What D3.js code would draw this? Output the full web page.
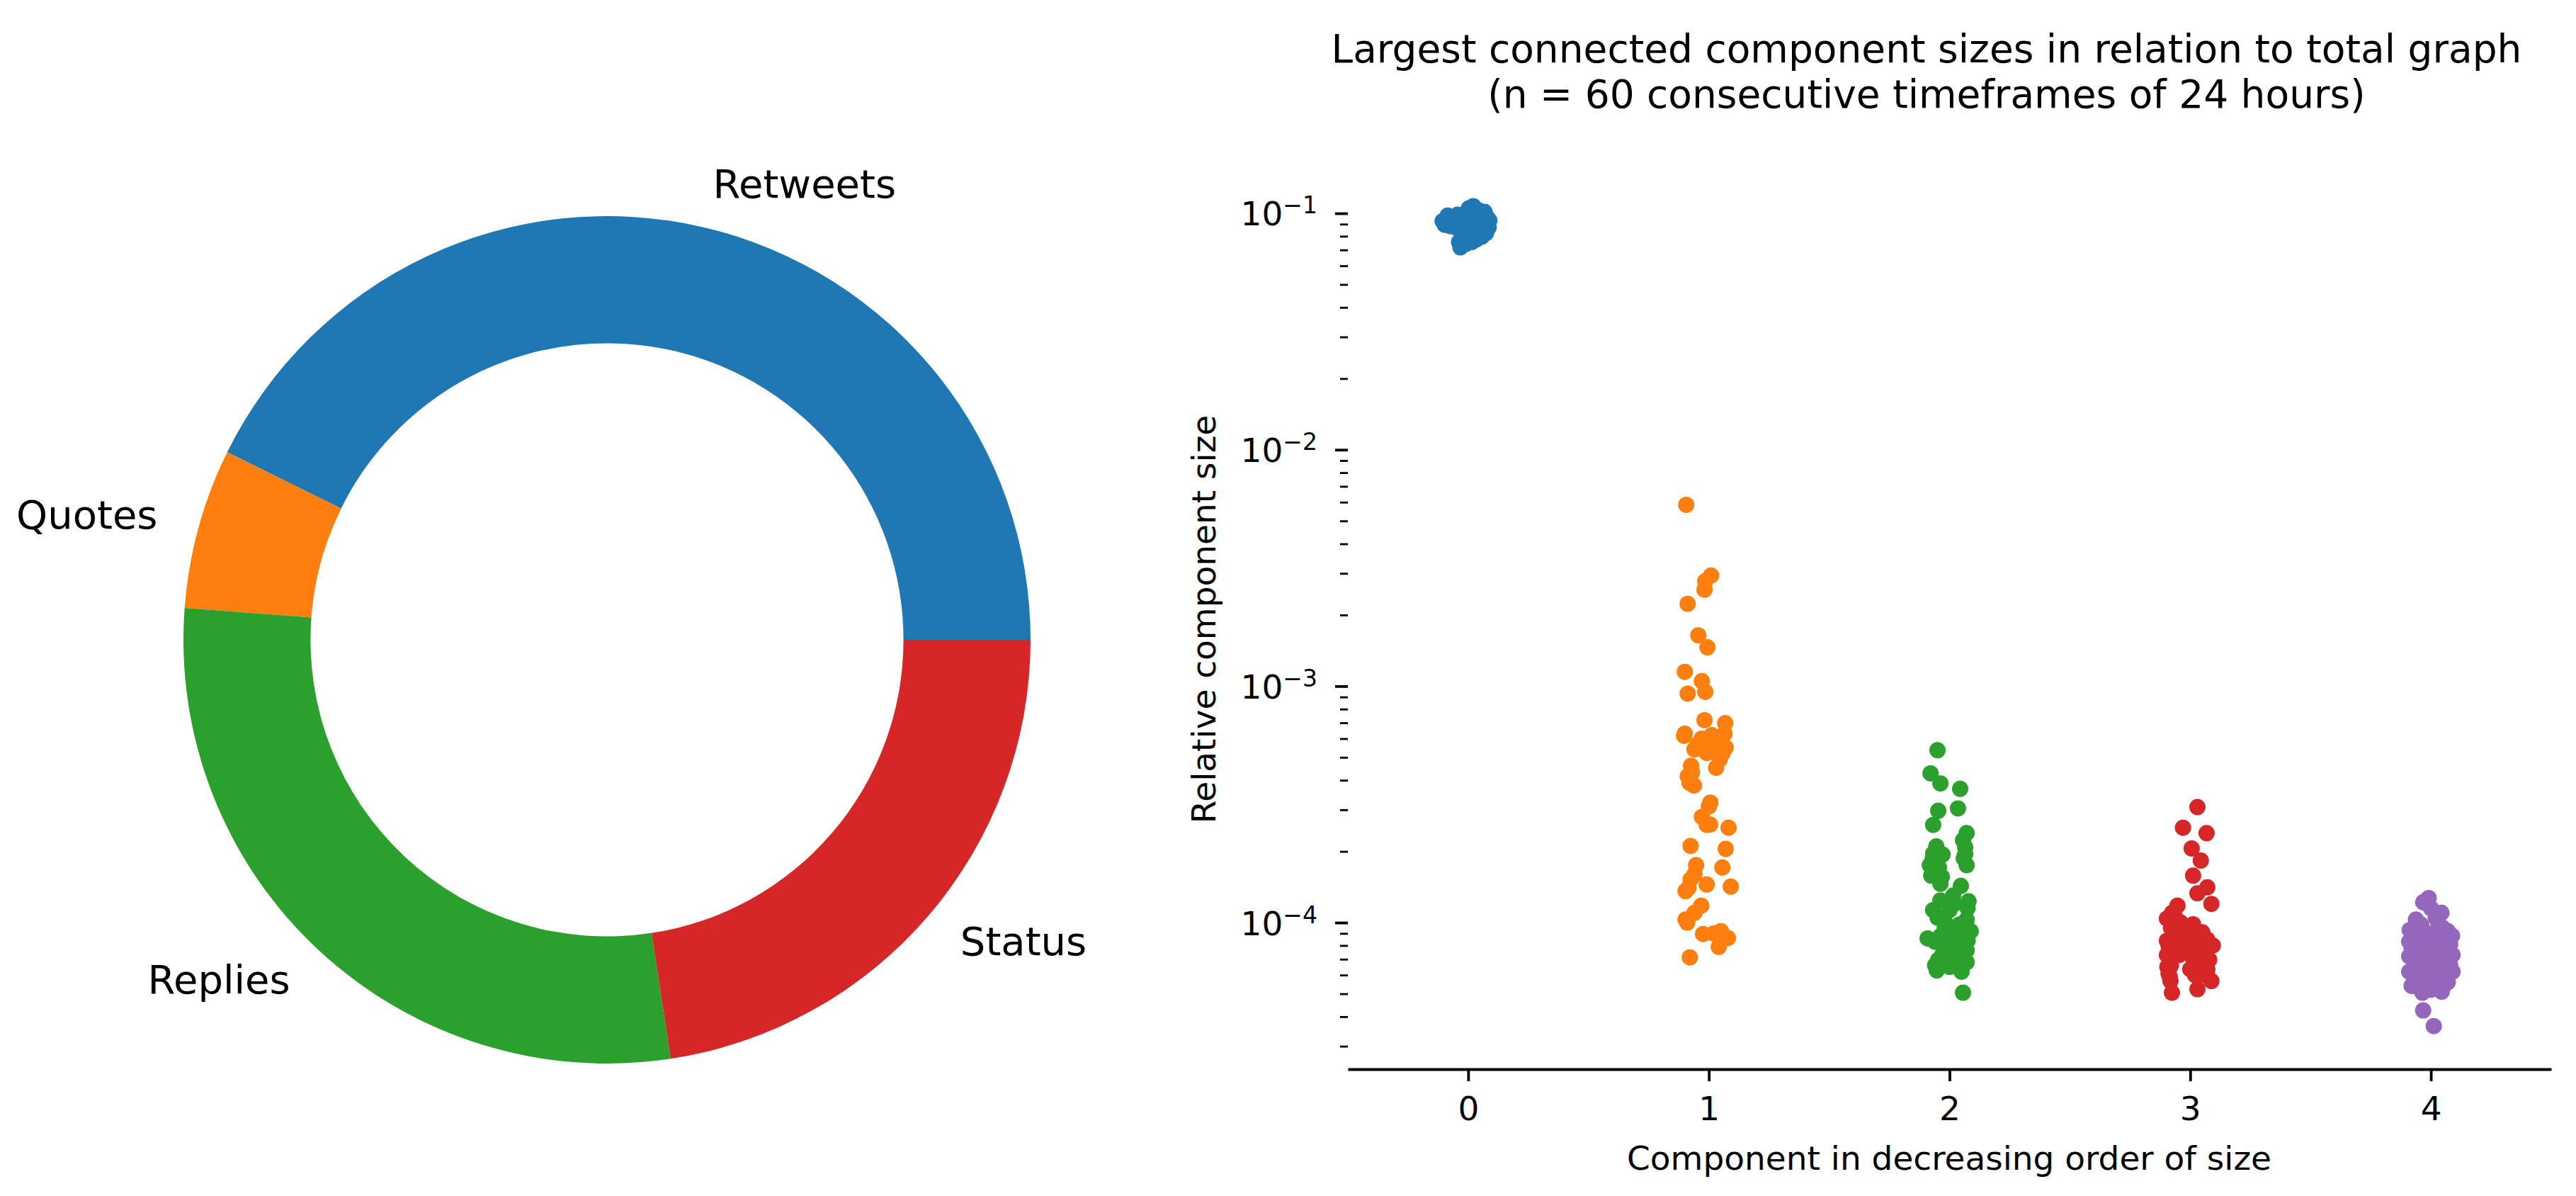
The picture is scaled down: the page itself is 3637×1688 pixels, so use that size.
<!DOCTYPE html>
<html><head><meta charset="utf-8">
<script src="https://cdn.jsdelivr.net/npm/d3@7"></script>
<style>
body{margin:0;background:#fff}
text{font-family:"DejaVu Sans",sans-serif;fill:#000}
</style>
</head><body>
<svg id="chart" width="3637" height="1688"></svg>
<script>
// ---------- data ----------
const donutLabels = ["Retweets", "Quotes", "Replies", "Status"];
const donutShares = [42.7, 6.1, 28.6, 22.6];
const donutColors = ["#1f77b4", "#ff7f0e", "#2ca02c", "#d62728"];

const components = [0, 1, 2, 3, 4];
const componentColors = ["#1f77b4", "#ff7f0e", "#2ca02c", "#d62728", "#9467bd"];

const comp0Jitter = [-0.106,-0.097,-0.082,-0.074,-0.062,-0.053,-0.038,-0.032,-0.021,-0.009,0.003,0.012,0.021,0.026,0.035,0.044,0.056,0.068,0.079,0.088,0.079,0.065,0.074,0.056,0.035,0.015,-0.009,-0.032,-0.038,-0.015,0.006,0.029,0.05,-0.003,-0.024,0.015,0.044,-0.044,-0.085,0.05,-0.015,0.006,0.026,0.038,0.062,-0.068,-0.05,-0.032,0.015,0.024,0.0,0.044,0.068,-0.006,0.021,0.041,-0.021,-0.026,-0.088,0.085];
const comp0Values = [0.0927,0.0895,0.0946,0.0883,0.0959,0.0908,0.0933,0.0871,0.0966,0.0914,0.105,0.1014,0.1072,0.0946,0.0993,0.1028,0.0979,0.1014,0.0959,0.0933,0.0895,0.0871,0.0824,0.0796,0.0777,0.0756,0.0743,0.0718,0.0756,0.0796,0.0835,0.0853,0.0895,0.0883,0.0847,0.0914,0.0933,0.0986,0.0979,0.0813,0.0933,0.0979,0.0895,0.0946,0.0933,0.0921,0.0871,0.0908,0.0959,0.1014,0.1014,0.0986,0.0908,0.0777,0.0796,0.0835,0.0769,0.0818,0.0908,0.0871];

const comp1Jitter = [-0.094,0.009,-0.015,-0.018,-0.088,-0.044,-0.006,-0.1,-0.029,-0.088,-0.015,-0.018,0.068,-0.103,-0.047,0.012,0.059,0.056,-0.009,0.03,-0.074,-0.088,-0.062,0.006,-0.029,-0.009,0.082,-0.076,0.07,-0.053,0.056,-0.076,-0.097,-0.009,0.091,-0.032,-0.097,-0.024,0.05,0.079,0.041,-0.079,0.03,-0.06,0.0,0.07,-0.03,0.045,-0.07,-0.08,0.0,-0.085,-0.06,-0.06,0.06,0.02,-0.09,0.005,0.065,-0.1];
const comp1Values = [5.85e-3,2.94e-3,2.78e-3,2.56e-3,2.23e-3,1.64e-3,1.46e-3,1.15e-3,1.05e-3,9.3e-4,9.46e-4,7.18e-4,6.98e-4,6.17e-4,5.68e-4,6.21e-4,6.21e-4,5.19e-4,5.22e-4,4.52e-4,4.61e-4,4.16e-4,3.8e-4,3.22e-4,2.8e-4,2.59e-4,2.52e-4,2.11e-4,2.05e-4,1.75e-4,1.71e-4,1.52e-4,1.36e-4,1.45e-4,1.42e-4,1.18e-4,1.03e-4,8.95e-5,9.2e-5,8.6e-5,7.9e-5,7.13e-5,5.9e-4,5.4e-4,5.6e-4,5.5e-4,6.0e-4,4.9e-4,4.3e-4,3.9e-4,3.1e-4,1.4e-4,1.6e-4,1.1e-4,8.5e-5,9.0e-5,1.0e-4,2.6e-4,6.3e-4,6.3e-4];

const comp2Jitter = [-0.05,-0.079,-0.038,0.044,-0.047,0.035,-0.068,0.071,0.056,0.065,-0.068,-0.029,-0.082,-0.044,0.059,-0.076,-0.032,0.071,-0.038,0.047,-0.038,0.079,-0.068,0.0,0.071,-0.018,-0.091,-0.038,0.012,0.088,0.041,0.071,-0.047,-0.053,0.0,0.071,0.056,0.056,-0.009,0.029,0.02,0.075,-0.05,0.04,-0.02,0.07,0.03,-0.06,0.0,0.05,0.075,-0.03,0.025,0.06,-0.06,0.015,-0.07,0.065,-0.055,0.05];
const comp2Values = [5.36e-4,4.28e-4,3.88e-4,3.68e-4,2.97e-4,3.04e-4,2.59e-4,2.39e-4,2.23e-4,2.08e-4,1.96e-4,1.94e-4,1.75e-4,1.71e-4,1.87e-4,1.58e-4,1.56e-4,1.75e-4,1.46e-4,1.43e-4,1.24e-4,1.23e-4,1.13e-4,1.13e-4,1.03e-4,1.0e-4,8.57e-5,8.77e-5,9.19e-5,9.19e-5,8.18e-5,7.64e-5,6.96e-5,6.28e-5,6.5e-5,6.8e-5,6.96e-5,5.05e-5,7.64e-5,6.6e-5,1.2e-4,1.15e-4,1.05e-4,9.8e-5,9.5e-5,9.6e-5,8.8e-5,8.3e-5,8.0e-5,7.8e-5,8.4e-5,7.3e-5,7.2e-5,7.2e-5,6.6e-5,1.3e-4,1.85e-4,1.95e-4,2.1e-4,6.2e-5];

const comp3Jitter = [0.03,-0.03,0.068,0.006,0.044,0.012,0.071,0.03,0.088,-0.053,-0.097,-0.062,0.012,0.094,-0.097,-0.047,0.041,0.0,-0.097,-0.047,0.041,0.079,-0.088,0.0,0.071,0.088,-0.082,-0.076,0.03,0.047,-0.08,-0.05,-0.02,0.02,0.05,0.07,-0.09,-0.06,-0.03,0.02,0.06,-0.07,-0.04,-0.01,0.03,0.06,-0.08,-0.085,0.01,0.04,-0.08,-0.095,0.02,0.05,-0.09,-0.085,0.02,0.07,-0.075,-0.04];
const comp3Values = [3.08e-4,2.52e-4,2.39e-4,2.06e-4,1.83e-4,1.58e-4,1.41e-4,1.33e-4,1.2e-4,1.18e-4,1.04e-4,1.05e-4,9.84e-5,8.0e-5,8.38e-5,8.77e-5,8.77e-5,8.0e-5,7.29e-5,7.29e-5,7.29e-5,6.96e-5,6.35e-5,6.35e-5,6.35e-5,5.66e-5,5.66e-5,5.05e-5,5.23e-5,6.0e-5,9.5e-5,9.2e-5,9.0e-5,9.3e-5,9.1e-5,8.5e-5,8.0e-5,8.1e-5,8.3e-5,8.2e-5,7.9e-5,7.6e-5,7.7e-5,7.5e-5,7.7e-5,7.4e-5,7.0e-5,6.9e-5,7.1e-5,6.8e-5,6.6e-5,6.5e-5,6.6e-5,6.7e-5,6.1e-5,5.9e-5,6.0e-5,6.1e-5,1.1e-4,1.0e-4];

const comp4Jitter = [-0.032,0.012,-0.032,-0.009,0.044,-0.062,-0.088,0.088,0.05,0.02,-0.04,0.0,0.03,-0.07,0.07,-0.09,-0.05,-0.01,0.04,0.08,-0.08,-0.03,0.01,0.06,0.09,-0.09,-0.05,0.0,0.03,0.07,-0.07,-0.02,0.04,0.08,-0.09,-0.04,0.01,0.05,0.09,-0.07,-0.02,0.03,0.07,-0.05,0.0,0.05,-0.08,0.02,-0.06,0.06,-0.01,0.025,-0.03,0.015,-0.065,0.065,-0.015,0.045,-0.035,0.055];
const comp4Values = [4.25e-5,3.65e-5,1.22e-4,1.27e-4,1.1e-4,1.03e-4,9.3e-5,8.8e-5,9.5e-5,1.05e-4,9.8e-5,1.15e-4,1.0e-4,9.0e-5,9.2e-5,8.3e-5,8.5e-5,8.6e-5,8.4e-5,8.1e-5,7.8e-5,7.7e-5,7.9e-5,7.6e-5,7.3e-5,7.2e-5,7.0e-5,7.1e-5,6.9e-5,7.0e-5,6.6e-5,6.5e-5,6.4e-5,6.6e-5,6.2e-5,6.0e-5,6.1e-5,5.9e-5,6.2e-5,5.7e-5,5.6e-5,5.5e-5,5.6e-5,5.3e-5,5.2e-5,5.3e-5,5.4e-5,5.8e-5,6.8e-5,8.0e-5,9.0e-5,6.7e-5,7.4e-5,8.2e-5,8.0e-5,6.3e-5,5.9e-5,5.1e-5,5.05e-5,7.3e-5];

const componentJitter = [comp0Jitter, comp1Jitter, comp2Jitter, comp3Jitter, comp4Jitter];
const componentValues = [comp0Values, comp1Values, comp2Values, comp3Values, comp4Values];

const yMajorTickValues = [1e-4, 1e-3, 1e-2, 1e-1];
const yTickExponents = ["\u22124", "\u22123", "\u22122", "\u22121"];
const xTickLabels = ["0", "1", "2", "3", "4"];
const titleLines = ["Largest connected component sizes in relation to total graph",
                    "(n = 60 consecutive timeframes of 24 hours)"];
const xAxisTitle = "Component in decreasing order of size";
const yAxisTitle = "Relative component size";

// ---------- drawing ----------
const svg = d3.select("#chart");
svg.append("rect").attr("width", 3637).attr("height", 1688).attr("fill", "#fff");

// Donut
const cxD = 857, cyD = 903, R = 598;
const pie = d3.pie().sort(null).startAngle(Math.PI / 2).endAngle(Math.PI / 2 - 2 * Math.PI);
const arcs = pie(donutShares);
const arc = d3.arc().innerRadius(R * 0.7).outerRadius(R);
const gD = svg.append("g").attr("transform", `translate(${cxD},${cyD})`);
gD.selectAll("path").data(arcs).join("path")
  .attr("d", arc).attr("fill", (d, i) => donutColors[i]);
gD.selectAll("text").data(arcs).join("text")
  .each(function (d, i) {
    const a = (d.startAngle + d.endAngle) / 2;
    const lx = 1.1 * R * Math.sin(a), ly = -1.1 * R * Math.cos(a);
    d3.select(this).attr("x", lx).attr("y", ly - 3)
      .attr("text-anchor", lx > 0 ? "start" : "end")
      .attr("dominant-baseline", "central")
      .attr("font-size", 56)
      .text(donutLabels[i]);
  });

// Strip plot
const x = d3.scaleLinear().domain([-0.5, 4.5]).range([1903, 3602]);
const y = d3.scaleLog().domain([Math.pow(10, -4.62), Math.pow(10, -0.814)]).range([1509, 239]);

const gP = svg.append("g");
components.forEach((c, k) => {
  const pts = componentValues[k].map((v, i) => ({ c: c + componentJitter[k][i], v: v }));
  gP.append("g").selectAll("circle").data(pts).join("circle")
    .attr("cx", d => x(d.c)).attr("cy", d => y(d.v))
    .attr("r", 11.5).attr("fill", componentColors[k]);
});

// X axis
const xAxisG = svg.append("g").attr("transform", "translate(0,1509)")
  .call(d3.axisBottom(x).tickValues(components).tickFormat((d, i) => xTickLabels[i])
        .tickSize(17).tickSizeOuter(0).tickPadding(22));
xAxisG.select(".domain").attr("stroke", "#000").attr("stroke-width", 3.8);
xAxisG.selectAll(".tick line").attr("stroke", "#000").attr("stroke-width", 3.8);
xAxisG.selectAll(".tick text").attr("font-size", 47).attr("font-family", "DejaVu Sans").attr("fill", "#000");

// Y axis minor ticks
const minorTicks = [];
[-5, -4, -3, -2, -1].forEach(e => {
  [2, 3, 4, 5, 6, 7, 8, 9].forEach(m => {
    const v = m * Math.pow(10, e);
    if (v >= y.domain()[0] && v <= y.domain()[1]) minorTicks.push(v);
  });
});
const yMinorG = svg.append("g").attr("transform", "translate(1903,0)")
  .call(d3.axisLeft(y).tickValues(minorTicks).tickSize(11).tickFormat(() => ""));
yMinorG.select(".domain").remove();
yMinorG.selectAll(".tick line").attr("stroke", "#000").attr("stroke-width", 2.8);

// Y axis major ticks
const yMajorG = svg.append("g").attr("transform", "translate(1903,0)")
  .call(d3.axisLeft(y).tickValues(yMajorTickValues).tickSize(18).tickPadding(25).tickFormat(() => ""));
yMajorG.select(".domain").remove();
yMajorG.selectAll(".tick line").attr("stroke", "#000").attr("stroke-width", 3.8);
yMajorG.selectAll(".tick text").each(function (d, i) {
  const t = d3.select(this);
  t.text(null).attr("font-size", 47).attr("font-family", "DejaVu Sans").attr("fill", "#000").attr("dy", "0.36em");
  t.append("tspan").text("10");
  t.append("tspan").attr("dy", -17).attr("font-size", 33).text(yTickExponents[i]);
});

// Titles
svg.append("text").attr("x", 2720).attr("y", 88).attr("text-anchor", "middle").attr("font-size", 55).text(titleLines[0]);
svg.append("text").attr("x", 2720).attr("y", 152).attr("text-anchor", "middle").attr("font-size", 55).text(titleLines[1]);
svg.append("text").attr("x", 2752).attr("y", 1651).attr("text-anchor", "middle").attr("font-size", 47).text(xAxisTitle);
svg.append("text").attr("transform", "translate(1716,874) rotate(-90)").attr("text-anchor", "middle").attr("font-size", 47).text(yAxisTitle);
</script>
</body></html>
